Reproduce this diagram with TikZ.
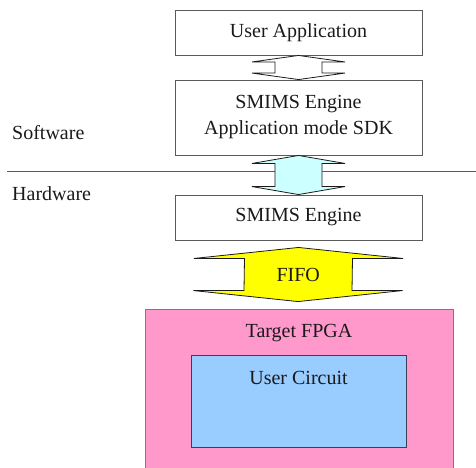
\documentclass[tikz,border=0pt]{standalone}
\usepackage{fontspec}
\setmainfont{Liberation Serif}
\newfontfamily\labelface{Liberation Serif}
\usetikzlibrary{positioning,calc}
\definecolor{ink}{HTML}{1A1A1A}
\definecolor{boxline}{HTML}{5A5A5A}
\definecolor{fifoyellow}{HTML}{FFFF00}
\definecolor{linkcyan}{HTML}{CCFFFF}
\definecolor{fpgapink}{HTML}{FF99CC}
\definecolor{circuitblue}{HTML}{99CCFF}
\definecolor{circuitline}{HTML}{3A3F55}

% flat double-headed arrow between two points:
% #1 top, #2 bottom, #3 half shaft, #4 half head, #5 head length, #6 style
\newcommand{\biarrow}[6]{%
  \draw[#6] (#1) -- ($(#1)+(#4,#5)$) -- ($(#1)+(#3,#5)$) -- ($(#2)+(#3,-#5)$)
    -- ($(#2)+(#4,-#5)$) -- (#2) -- ($(#2)+(-#4,-#5)$) -- ($(#2)+(-#3,-#5)$)
    -- ($(#1)+(-#3,#5)$) -- ($(#1)+(-#4,#5)$) -- cycle;}

\begin{document}
\begin{tikzpicture}[x=1pt, y=-1pt,
    every node/.style={font=\labelface\fontsize{20}{24}\selectfont, text=ink},
    layer/.style={draw=boxline, line width=0.9pt, fill=white,
                  minimum width=247pt, align=center, inner sep=0pt},
    link/.style={draw=ink, line width=0.8pt, line join=miter},
    side/.style={anchor=west, inner sep=0pt},
  ]
  \useasboundingbox (0,0) rectangle (476,467);

  % software / hardware split
  \coordinate (splitl) at (7,171);
  \coordinate (splitr) at (476,171);
  \draw[boxline, line width=0.9pt] (splitl) -- (splitr);
  \node[side] (sw) at (12,133) {Software};
  \node[side] (hw) at (12,194) {Hardware};

  % stack of layers
  \node[layer, minimum height=45pt] (app) at (298.5,32.5) {User Application};
  \node[layer, minimum height=75pt] (sdk) at (298.5,117.5)
    {SMIMS Engine\\[2pt]Application mode SDK};
  \node[layer, minimum height=45pt] (eng) at (298.5,217.5) {SMIMS Engine};

  % target
  \node[draw=boxline!80, line width=0.9pt, fill=fpgapink,
        minimum width=308pt, minimum height=170pt] (fpga) at (299,394) {};
  \node (tfpga) at ($(fpga.north)+(0,24)$) {Target FPGA};
  \node[draw=circuitline, line width=1pt, fill=circuitblue,
        minimum width=215pt, minimum height=92pt] (circ) at (298.5,401) {};
  \node (ucirc) at ($(circ.north)+(0,23)$) {User Circuit};

  % links
  \biarrow{app.south}{sdk.north}{23.5}{46.5}{6.5}{link, fill=white}
  \biarrow{sdk.south}{eng.north}{23.5}{46.5}{8}{link, fill=linkcyan}
  \coordinate (fifotop) at ($(eng.south)+(0,7)$);
  \coordinate (fifobot) at ($(fpga.north)+(-1,-7)$);
  \biarrow{fifotop}{fifobot}{54}{104.5}{11}{link, fill=fifoyellow}
  \node (fifo) at ($(fifotop)!0.5!(fifobot)$) {FIFO};
\end{tikzpicture}
\end{document}
